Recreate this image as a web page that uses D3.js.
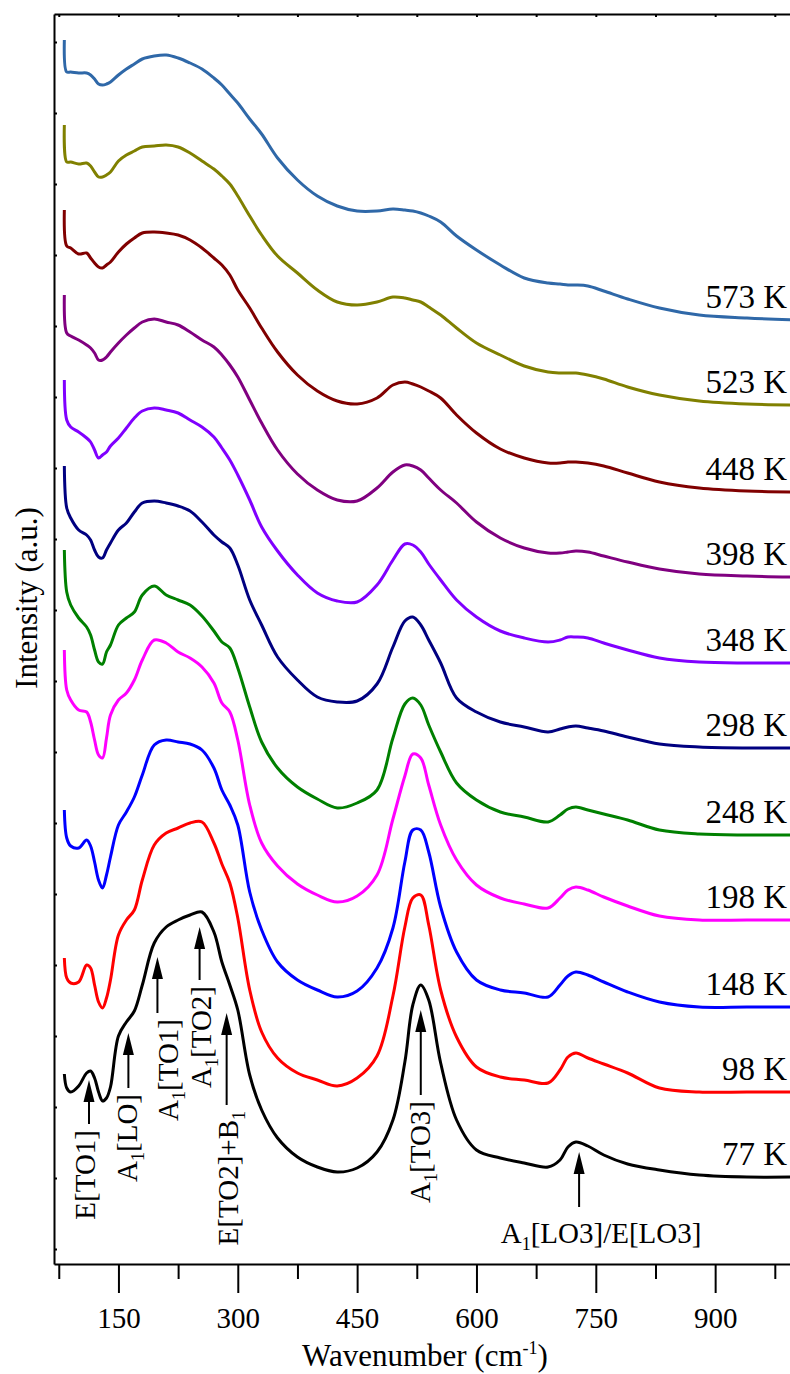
<!DOCTYPE html>
<html>
<head>
<meta charset="utf-8">
<script src="https://cdn.jsdelivr.net/npm/d3@7"></script>
<style>
  body { margin: 0; background: #fff; }
  svg { display: block; }
</style>
</head>
<body>
<div id="chart"></div>
<script>
'use strict';

// wavenumber grid (cm-1), shared by every spectrum
const wavenumbers = [82, 85, 90, 100, 110, 115, 120, 125, 130, 135,
  140, 150, 160, 170, 180, 195, 210, 225, 240, 255,
  270, 280, 290, 300, 315, 330, 350, 375, 400, 425,
  450, 475, 495, 510, 520, 530, 540, 555, 575, 600,
  630, 660, 690, 705, 715, 725, 740, 760, 790, 830,
  880, 940, 1000];

// stacked intensities (a.u.), one array per temperature
const int77 = [190, 176, 172, 178, 191, 193, 186, 172, 163, 166,
  177, 228, 242, 253, 279, 321, 337, 344, 349, 352,
  332, 302, 279, 254, 189, 154, 126, 107, 97, 92,
  96, 112, 144, 202, 259, 279, 264, 201, 144, 114,
  106, 101, 97, 104, 117, 122, 118, 109, 100, 94,
  89, 87, 87];
const int98 = [306, 286, 281, 282, 299, 296, 279, 262, 256, 266,
  284, 329, 344, 354, 384, 419, 431, 436, 441, 442,
  421, 400, 381, 346, 274, 232, 206, 191, 184, 178,
  186, 208, 268, 337, 366, 369, 339, 274, 227, 197,
  187, 184, 181, 194, 207, 211, 206, 200, 191, 176,
  172, 172, 172];
const int148 = [454, 426, 418, 416, 424, 418, 402, 384, 376, 389,
  407, 439, 452, 467, 489, 519, 524, 522, 520, 514,
  496, 474, 459, 439, 372, 334, 302, 284, 274, 267,
  273, 296, 336, 402, 434, 434, 412, 357, 312, 284,
  274, 271, 267, 279, 288, 292, 289, 282, 272, 262,
  257, 257, 257];
const int198 = [614, 574, 564, 554, 552, 542, 524, 509, 506, 526,
  549, 564, 571, 584, 604, 624, 621, 612, 606, 597,
  581, 561, 552, 524, 459, 421, 398, 380, 369, 362,
  368, 389, 445, 488, 510, 506, 479, 439, 404, 379,
  366, 360, 356, 366, 374, 377, 374, 367, 358, 348,
  344, 344, 344];
const int248 = [714, 672, 659, 646, 637, 629, 614, 602, 600, 612,
  619, 639, 646, 652, 669, 678, 669, 664, 659, 648,
  633, 622, 616, 596, 557, 522, 496, 477, 465, 456,
  461, 474, 526, 560, 566, 559, 539, 512, 481, 464,
  452, 447, 442, 449, 455, 457, 454, 450, 444, 434,
  430, 429, 429];
const int298 = [798, 756, 746, 734, 729, 724, 714, 707, 706, 714,
  721, 734, 741, 752, 761, 763, 761, 758, 753, 742,
  729, 722, 716, 699, 664, 639, 607, 584, 567, 562,
  563, 580, 617, 643, 647, 639, 624, 601, 566, 552,
  542, 537, 532, 535, 537, 538, 536, 533, 527, 520,
  517, 516, 516];
const int348 = [884, 844, 837, 832, 826, 822, 814, 806, 809, 812,
  818, 826, 836, 846, 853, 856, 854, 851, 844, 837,
  827, 816, 804, 789, 764, 737, 713, 689, 671, 663,
  662, 679, 704, 720, 719, 712, 700, 684, 664, 647,
  633, 626, 622, 624, 627, 627, 626, 621, 614, 606,
  602, 601, 601];
const int398 = [969, 931, 928, 924, 919, 916, 911, 904, 904, 907,
  912, 921, 929, 936, 942, 945, 942, 939, 932, 924,
  917, 909, 899, 887, 864, 841, 814, 790, 774, 764,
  763, 776, 792, 799, 798, 794, 786, 774, 761, 742,
  726, 716, 711, 711, 712, 713, 712, 708, 702, 695,
  690, 688, 687];
const int448 = [1054, 1018, 1016, 1010, 1011, 1006, 1001, 997, 996, 999,
  1002, 1012, 1020, 1026, 1031, 1032, 1031, 1029, 1024, 1016,
  1006, 999, 989, 974, 956, 936, 912, 889, 873, 863,
  860, 866, 879, 882, 880, 877, 873, 866, 849, 831,
  815, 806, 801, 801, 802, 802, 801, 798, 791, 782,
  776, 773, 772];
const int523 = [1139, 1102, 1102, 1100, 1101, 1098, 1092, 1087, 1087, 1089,
  1092, 1103, 1109, 1113, 1117, 1118, 1119, 1117, 1111, 1103,
  1095, 1088, 1080, 1068, 1048, 1029, 1008, 991, 974, 962,
  959, 962, 967, 966, 964, 962, 957, 949, 936, 921,
  909, 898, 892, 891, 891, 891, 889, 885, 877, 869,
  863, 860, 859];
const int573 = [1224, 1192, 1192, 1191, 1191, 1189, 1185, 1180, 1179, 1180,
  1182, 1189, 1195, 1200, 1205, 1208, 1209, 1206, 1201, 1195,
  1186, 1179, 1170, 1161, 1145, 1130, 1106, 1084, 1068, 1058,
  1053, 1053, 1055, 1054, 1053, 1051, 1048, 1042, 1028, 1014,
  999, 986, 981, 980, 979, 979, 978, 973, 965, 956,
  949, 946, 944];

const temperatures = ['77 K', '98 K', '148 K', '198 K', '248 K', '298 K',
  '348 K', '398 K', '448 K', '523 K', '573 K'];
const spectra = [int77, int98, int148, int198, int248, int298,
  int348, int398, int448, int523, int573];
const colors = ['#000000', '#ff0000', '#0000ff', '#ff00ff', '#008000', '#000080',
  '#8000ff', '#800080', '#800000', '#808000', '#2f68a8'];

// mode assignments: [text, subscript?] pieces, arrow position and extent
const modeLabels = [
  [['E[TO1]', 0]],
  [['A', 0], ['1', 1], ['[LO]', 0]],
  [['A', 0], ['1', 1], ['[TO1]', 0]],
  [['A', 0], ['1', 1], ['[TO2]', 0]],
  [['E[TO2]+B', 0], ['1', 1]],
  [['A', 0], ['1', 1], ['[TO3]', 0]],
  [['A', 0], ['1', 1], ['[LO3]/E[LO3]', 0]]
];
const modeWave = [113, 162.5, 199, 252, 286, 530, 729];
const modeTip = [184, 231, 307, 337, 251, 254, 112];
const modeTail = [140, 176, 251, 284, 159, 169, 57];

const xMajor = [150, 300, 450, 600, 750, 900];
const xMinor = [75, 225, 375, 525, 675, 825, 975];
const yTicks = d3.range(15, 1250, 71);

// layout
const W = 790, H = 1374;
const mLeft = 54, mTop = 14, mBottom = 1264;
const font = 'Liberation Serif';
const fsTick = 29, fsTemp = 33, fsMode = 29, fsTitle = 31, fsSub = 18;

const x = d3.scaleLinear().domain([69, 1000]).range([mLeft, mLeft + 931 * 0.7956]);
const y = d3.scaleLinear().domain([0, 1250]).range([mBottom, mTop]);

const svg = d3.select('#chart')
  .append('svg')
  .attr('width', W)
  .attr('height', H)
  .attr('font-family', font);

// bottom axis, labelled majors + short minors
const gx = svg.append('g')
  .attr('transform', `translate(0,${mBottom})`)
  .call(d3.axisBottom(x).tickValues(xMajor).tickSize(29).tickSizeOuter(0).tickFormat(d3.format('d')));
gx.attr('font-family', font);
gx.selectAll('text')
  .attr('y', 64)
  .attr('dy', 0)
  .attr('font-size', fsTick)
  .attr('font-family', font)
  .attr('fill', '#000');

svg.append('g')
  .attr('transform', `translate(0,${mBottom})`)
  .call(d3.axisBottom(x).tickValues(xMinor).tickSize(15).tickFormat(''))
  .select('.domain').remove();

// top frame with small inward ticks
svg.append('g')
  .attr('transform', `translate(0,${mTop})`)
  .call(d3.axisBottom(x).tickValues(xMajor.concat(xMinor)).tickSize(3).tickSizeOuter(0).tickFormat(''));

// left frame with small inward ticks
svg.append('g')
  .attr('transform', `translate(${mLeft},0)`)
  .call(d3.axisRight(y).tickValues(yTicks).tickSize(3).tickSizeOuter(0).tickFormat(''));

svg.selectAll('.domain').attr('stroke', '#000').attr('stroke-width', 2);
svg.selectAll('.tick line').attr('stroke', '#000').attr('stroke-width', 2);

// spectra
const line = d3.line()
  .x((d, i) => x(wavenumbers[i]))
  .y(d => y(d))
  .curve(d3.curveCatmullRom.alpha(0.5));

svg.append('g')
  .selectAll('path')
  .data(spectra)
  .join('path')
  .attr('d', line)
  .attr('fill', 'none')
  .attr('stroke', (d, i) => colors[i])
  .attr('stroke-width', 3)
  .attr('stroke-linejoin', 'round');

// temperature tags at right end of each curve
svg.append('g')
  .selectAll('text')
  .data(spectra)
  .join('text')
  .attr('x', 787)
  .attr('y', d => y(d[d.length - 1]) - 12)
  .attr('text-anchor', 'end')
  .attr('font-family', font)
  .attr('font-size', fsTemp)
  .text((d, i) => temperatures[i]);

// arrows: shaft + filled head
const arrows = svg.append('g');
modeWave.forEach((w, i) => {
  const ax = x(w), tip = y(modeTip[i]);
  arrows.append('line')
    .attr('x1', ax).attr('x2', ax)
    .attr('y1', y(modeTail[i])).attr('y2', tip + 20)
    .attr('stroke', '#000')
    .attr('stroke-width', 2);
  arrows.append('path')
    .attr('d', `M${ax - 5.5},${tip + 22} L${ax},${tip} L${ax + 5.5},${tip + 22} Z`)
    .attr('fill', '#000');
});

// text with subscript pieces; the piece after a subscript goes back up
const addPieces = (t, pieces) => {
  let shift = 0;
  pieces.forEach(([s, sub]) => {
    const dy = sub ? 7 : -shift;
    shift = sub ? 7 : 0;
    t.append('tspan')
      .attr('font-size', sub ? fsSub : fsMode)
      .attr('dy', dy)
      .text(s);
  });
};

// vertical mode labels (offset of baseline from arrow)
const labelDx = [6, 9, 21, 11, 11, 9];
labelDx.forEach((dx, i) => {
  const t = svg.append('text')
    .attr('transform', `translate(${x(modeWave[i]) + dx},${y(modeTail[i]) + 6}) rotate(-90)`)
    .attr('text-anchor', 'end')
    .attr('font-family', font)
    .attr('font-size', fsMode);
  addPieces(t, modeLabels[i]);
});

// horizontal label under the LO3 arrow
const lo = svg.append('text')
  .attr('x', x(modeWave[6]) + 22)
  .attr('y', y(modeTail[6]) + 36)
  .attr('text-anchor', 'middle')
  .attr('font-family', font)
  .attr('font-size', fsMode);
addPieces(lo, modeLabels[6]);

// axis titles
const xt = svg.append('text')
  .attr('x', 425)
  .attr('y', 1366)
  .attr('text-anchor', 'middle')
  .attr('font-family', font)
  .attr('font-size', fsTitle);
xt.append('tspan').text('Wavenumber (cm');
xt.append('tspan').attr('font-size', fsSub).attr('dy', -12).text('-1');
xt.append('tspan').attr('dy', 12).text(')');

svg.append('text')
  .attr('transform', 'translate(37,598) rotate(-90)')
  .attr('text-anchor', 'middle')
  .attr('font-family', font)
  .attr('font-size', fsTitle)
  .text('Intensity (a.u.)');
</script>
</body>
</html>
